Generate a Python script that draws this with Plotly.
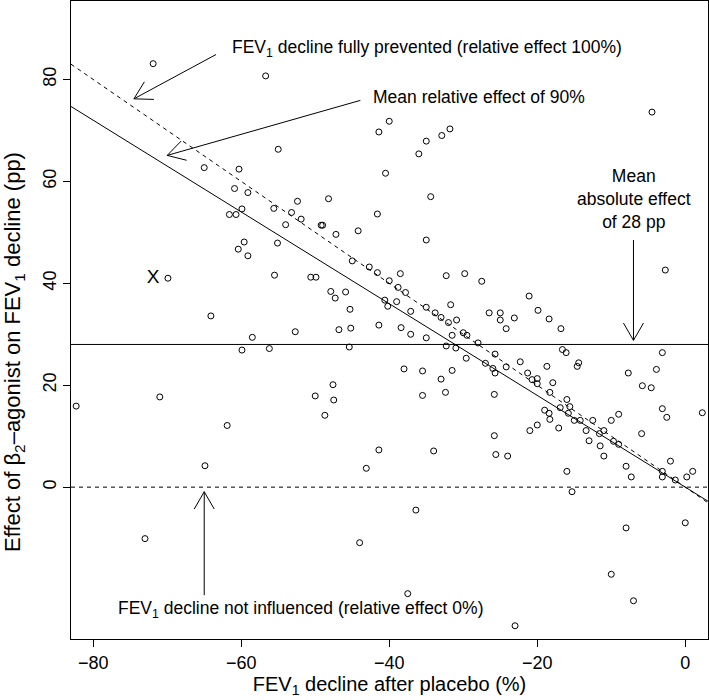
import math
import plotly.graph_objects as go

# ---------------- data ----------------
placebo_decline = [
    -71.9, -56.7, -55.0, -65.0, -60.3, -60.9, -59.1, -55.6, -61.6, -60.7, -59.9, -40.0, -41.4, -31.8, -32.9,
    -35.0, -36.0, -40.5, -34.4, -48.2, -52.4, -53.2, -51.9, -41.6, -4.5,
    -59.6, -60.4, -59.1, -55.1, -55.5, -69.9, -64.1, -58.5, -59.9, -56.2, -71.0, -82.3, -61.9,
    -54.0, -49.2, -49.0, -47.2, -44.2, -35.0, -45.0, -50.6, -49.9, -42.7, -41.6, -38.5, -40.0, -38.8, -37.8,
    -32.3, -29.8, -27.5, -47.9, -45.9, -47.3, -40.6, -40.2, -39.0, -45.3, -37.1, -35.0, -33.8, -33.0, -31.7,
    -32.0, -30.9, -26.5, -31.5, -30.0, -29.5, -28.0, -27.0, -52.7, -46.8, -45.2, -41.4, -38.4, -37.1, -35.0,
    -45.4, -32.3, -31.0, -29.6, -38.0, -35.5, -31.5, -33.0, -32.4, -35.5, -47.6, -50.0, -47.5, -48.7,
    -2.7, -21.1, -25.0, -25.0, -23.1, -24.2, -19.9, -18.4, -16.8, -16.6, -16.1, -3.1, -25.7, -26.0, -25.7,
    -24.2, -22.3, -18.7, -14.4, -14.6, -21.3, -20.7, -20.0, -20.0, -17.9, -18.3, -25.8, -7.7, -3.9, -5.8,
    -4.6, -16.0, -15.6, -16.9, -19.0, -18.4, -18.3, -15.8, -15.0, -14.2, -12.5, -10.0, -9.0, -3.1, -2.5, 2.3,
    -25.8, -25.6, -24.0, -21.0, -20.0, -17.1, -13.4, -11.6, -11.0, -13.0, -11.5, -11.0, -9.7, -9.0, -5.9,
    -8.0, -7.3, -3.1, -3.1, -2.0, -1.35, 0.2, 1.0, -16.0, -15.3, -8.0, 0.0, -10.0, -7.0, -23.0,
    -64.9, -73.0, -41.4, -34.0, -43.1, -36.4, -44.0, -37.5,
]
agonist_effect = [
    83.1, 80.7, 66.3, 62.7, 62.4, 58.6, 57.8, 54.7, 53.5, 53.5, 54.6, 71.8, 69.7, 70.3, 69.0,
    67.9, 65.4, 61.6, 57.0, 56.6, 56.1, 53.9, 52.6, 53.6, 73.6,
    48.1, 46.7, 45.4, 47.9, 41.6, 41.0, 33.6, 29.4, 26.9, 27.2, 17.7, 15.9, 12.1,
    51.5, 51.4, 51.4, 49.6, 50.3, 48.5, 44.4, 41.2, 41.2, 43.2, 42.1, 41.9, 40.5, 39.2, 38.2,
    41.5, 41.9, 40.4, 38.4, 38.3, 37.1, 36.7, 35.5, 36.4, 34.9, 34.5, 35.3, 34.2, 33.3, 35.8,
    32.3, 32.8, 34.2, 29.8, 30.3, 29.8, 28.3, 24.3, 30.5, 30.9, 31.2, 31.8, 31.3, 30.0, 29.3,
    27.5, 27.7, 27.3, 25.3, 23.2, 22.8, 22.9, 21.2, 18.6, 18.0, 20.1, 17.9, 17.1, 14.1,
    42.6, 37.5, 34.2, 32.8, 33.2, 31.1, 34.7, 33.0, 31.1, 27.0, 26.4, 26.4, 26.1, 23.3, 22.4,
    23.6, 24.6, 23.7, 24.4, 23.7, 22.4, 21.1, 21.3, 20.3, 20.5, 18.6, 18.2, 22.4, 23.1, 19.9,
    19.5, 17.2, 15.8, 15.6, 15.1, 14.5, 13.3, 14.5, 13.1, 13.1, 13.1, 13.1, 14.3, 15.4, 13.7, 14.6,
    10.1, 6.4, 6.1, 11.1, 12.2, 11.6, 11.1, 10.5, 11.1, 9.1, 8.1, 6.1, 9.0, 8.4, 10.5,
    4.1, 2.0, 3.1, 2.0, 5.1, 1.4, 2.0, 3.1, 3.1, -0.9, -8.0, -7.0, -17.1, -22.3, -27.2,
    4.2, -10.1, 7.3, 7.1, 3.7, -4.5, -10.9, -20.9,
]

marked_x = [-71.9]
marked_y = [41.0]
marked_label = ["X"]

mean_absolute_effect = 28
relative_effects = [1.0, 0.9]   # 100% (dashed) and 90% (solid)

x_ticks = [-80, -60, -40, -20, 0]
y_ticks = [0, 20, 40, 60, 80]
x_range = [-83.0, 3.07]
y_range = [-29.8, 95.4]

x_title = "FEV<sub>1</sub> decline after placebo (%)"
y_title = "Effect of β<sub>2</sub>–agonist on FEV<sub>1</sub> decline (pp)"

# arrows: tail -> head (data units)
arrow_tail_x = [-63.4, -43.9, -7.0, -65.0]
arrow_tail_y = [84.9, 75.9, 48.5, -21.2]
arrow_head_x = [-74.5, -70.0, -7.0, -65.0]
arrow_head_y = [76.2, 65.1, 28.8, -0.9]

label_texts = [
    "FEV<sub>1</sub> decline fully prevented (relative effect 100%)",
    "Mean relative effect of 90%",
    "Mean<br>absolute effect<br>of 28 pp",
    "FEV<sub>1</sub> decline not influenced (relative effect 0%)",
]
label_x = [-61.5, -42.4, -6.9, -52.0]
label_y = [86.1, 76.5, 56.5, -24.1]
label_anchor = ["left", "left", "center", "center"]

# ---------------- figure ----------------
W, H = 709, 700
ML, MR, MT, MB = 71, 1, 1, 61
PW, PH = W - ML - MR, H - MT - MB
sx = PW / (x_range[1] - x_range[0])
sy = PH / (y_range[1] - y_range[0])

FONT = "Liberation Sans, Arial, Helvetica, sans-serif"
fig = go.Figure()

# reference lines
xs_full = [x_range[0], x_range[1]]
fig.add_trace(go.Scatter(x=xs_full, y=[mean_absolute_effect] * 2, mode="lines",
                         line=dict(color="black", width=1), hoverinfo="skip", showlegend=False))
fig.add_trace(go.Scatter(x=xs_full, y=[0, 0], mode="lines",
                         line=dict(color="black", width=1, dash="4px,4px"), hoverinfo="skip", showlegend=False))
for r, dash in zip(relative_effects, ["4px,4px", "solid"]):
    fig.add_trace(go.Scatter(x=xs_full, y=[-r * v for v in xs_full], mode="lines",
                             line=dict(color="black", width=1, dash=dash), hoverinfo="skip", showlegend=False))

# points
fig.add_trace(go.Scatter(x=placebo_decline, y=agonist_effect, mode="markers",
                         marker=dict(symbol="circle-open", size=6, color="black", line=dict(width=1)),
                         showlegend=False))

# marked point label
fig.add_trace(go.Scatter(x=marked_x, y=marked_y, mode="text", text=marked_label,
                         textfont=dict(family=FONT, size=19, color="black"),
                         textposition="middle center", showlegend=False, hoverinfo="skip"))

# arrows with open V heads (R style)
ax, ay = [], []
head_len, head_ang = 20.0, math.radians(30)
for tx, ty, hx, hy in zip(arrow_tail_x, arrow_tail_y, arrow_head_x, arrow_head_y):
    ax += [tx, hx, None]
    ay += [ty, hy, None]
    dxp = (tx - hx) * sx
    dyp = (ty - hy) * sy
    ang = math.atan2(dyp, dxp)
    for s in (-1, 1):
        a = ang + s * head_ang
        ax += [hx, hx + head_len * math.cos(a) / sx, None]
        ay += [hy, hy + head_len * math.sin(a) / sy, None]
fig.add_trace(go.Scatter(x=ax, y=ay, mode="lines", line=dict(color="black", width=1),
                         hoverinfo="skip", showlegend=False))

for t, x, y, anc in zip(label_texts, label_x, label_y, label_anchor):
    fig.add_annotation(x=x, y=y, xref="x", yref="y", text=t, showarrow=False,
                       xanchor=anc, yanchor="middle", align="center",
                       font=dict(family=FONT, size=17.5, color="black"))

# y-axis title (rotated), placed as in the reference
fig.add_annotation(x=(14 - ML) / PW, y=(H - MB - 352) / PH, xref="paper", yref="paper",
                   text=y_title, textangle=-90, showarrow=False,
                   xanchor="center", yanchor="middle",
                   font=dict(family=FONT, size=22, color="black"))

axis_common = dict(showgrid=False, zeroline=False, showline=True, mirror=True,
                   linecolor="black", linewidth=1, ticks="outside", ticklen=7,
                   tickwidth=1, tickcolor="black",
                   tickfont=dict(family=FONT, size=18, color="black"))
fig.update_xaxes(range=x_range, tickvals=x_ticks, **axis_common,
                 title=dict(text=x_title, font=dict(family=FONT, size=20, color="black"), standoff=4))
fig.update_yaxes(range=y_range, tickvals=y_ticks, tickangle=-90, **axis_common)

fig.update_layout(width=W, height=H, margin=dict(l=ML, r=MR, t=MT, b=MB, autoexpand=False),
                  plot_bgcolor="white", paper_bgcolor="white", showlegend=False)

fig.write_html("out.html", config={"displayModeBar": False},
               post_script="document.body.style.margin='0';document.body.style.padding='0';")
